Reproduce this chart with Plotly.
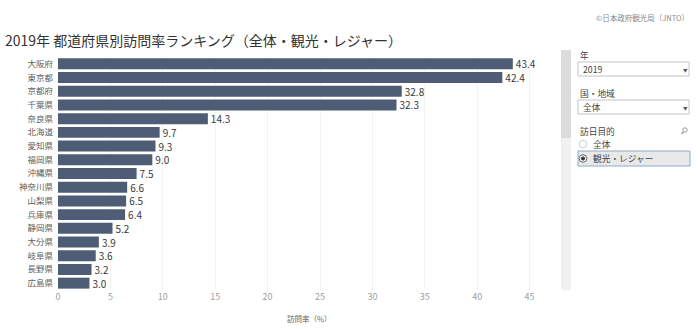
import plotly.graph_objects as go

# 都道府県別訪問率（2019年・観光・レジャー）
prefectures = ["大阪府", "東京都", "京都府", "千葉県", "奈良県", "北海道", "愛知県", "福岡県",
               "沖縄県", "神奈川県", "山梨県", "兵庫県", "静岡県", "大分県", "岐阜県", "長野県", "広島県"]
visit_rate = [43.4, 42.4, 32.8, 32.3, 14.3, 9.7, 9.3, 9.0, 7.5, 6.6, 6.5, 6.4, 5.2, 3.9, 3.6, 3.2, 3.0]
x_ticks = [0, 5, 10, 15, 20, 25, 30, 35, 40, 45]

FONT = "Noto Sans CJK JP"
W, H = 700, 329
ML, MR, MT, MB = 58, 140, 57, 39
PW, PH = W - ML - MR, H - MT - MB


def px_x(x):
    return (x - ML) / PW


def px_y(y):
    return (H - MB - y) / PH


fig = go.Figure(go.Bar(
    x=visit_rate, y=prefectures, orientation="h",
    marker=dict(color="#4e5d75", line=dict(width=0)),
    width=0.8,
    text=[f"{v:.1f}" for v in visit_rate], textposition="outside",
    constraintext="none",
    textfont=dict(family=FONT, size=10, color="#3a3a3a"),
    cliponaxis=False, hoverinfo="skip",
))

shapes = []
annotations = []


def rect(x0, y0, x1, y1, fill, line=None, lw=1):
    shapes.append(dict(type="rect", xref="paper", yref="paper",
                       x0=px_x(x0), x1=px_x(x1), y0=px_y(y0), y1=px_y(y1),
                       fillcolor=fill, line=dict(color=line or fill, width=lw if line else 0),
                       layer="above"))


def circle(cx, cy, r, fill, line, lw=1):
    shapes.append(dict(type="circle", xref="paper", yref="paper",
                       x0=px_x(cx - r), x1=px_x(cx + r), y0=px_y(cy + r), y1=px_y(cy - r),
                       fillcolor=fill, line=dict(color=line, width=lw), layer="above"))


def text(x, y, s, size=9, color="#444444", anchor="left"):
    annotations.append(dict(xref="paper", yref="paper", x=px_x(x), y=px_y(y), text=s,
                            showarrow=False, xanchor=anchor, yanchor="middle",
                            font=dict(family=FONT, size=size, color=color)))


# タイトルとクレジット
text(3, 40, "2019年 都道府県別訪問率ランキング（全体・観光・レジャー）", size=14, color="#333333")
text(691, 17, "©日本政府観光局（JNTO）", size=7.5, color="#8a8a8a", anchor="right")
text(309, 318, "訪問率（%）", size=7.5, color="#666666", anchor="center")

# スクロールバー
rect(561, 138, 571, 290, "#f1f1f1")
rect(561, 50, 571, 138, "#dcdcdc")

# フィルター：年
text(578, 55, "年", size=8.7)
rect(578, 62, 689, 76, "#ffffff", "#c4c4c4")
text(581, 69, "2019", size=8.7)
text(685, 69.5, "▼", size=4.5, color="#555555", anchor="center")

# フィルター：国・地域
text(578, 93, "国・地域", size=8.7)
rect(578, 100, 689, 114, "#ffffff", "#c4c4c4")
text(581, 107, "全体", size=8.7)
text(685, 107.5, "▼", size=4.5, color="#555555", anchor="center")

# フィルター：訪日目的
text(578, 131, "訪日目的", size=8.7)
circle(685, 130, 2.2, "rgba(0,0,0,0)", "#999999", 1)
shapes.append(dict(type="line", xref="paper", yref="paper",
                   x0=px_x(683.5), y0=px_y(131.8), x1=px_x(681.5), y1=px_y(134),
                   line=dict(color="#999999", width=1.2), layer="above"))
circle(583, 144, 3.8, "#ffffff", "#cccccc")
text(591, 144, "全体", size=8.7)
rect(578, 151, 690, 166, "#e9e9e9", "#90aacb")
circle(583, 158.5, 3.8, "#ffffff", "#666666")
circle(583, 158.5, 1.6, "#333333", "#333333")
text(591, 158.5, "観光・レジャー", size=8.7)

fig.update_layout(
    width=W, height=H,
    margin=dict(l=ML, r=MR, t=MT, b=MB),
    paper_bgcolor="#ffffff", plot_bgcolor="#ffffff",
    showlegend=False, bargap=0.2,
    shapes=shapes, annotations=annotations,
    xaxis=dict(range=[0, 47.9], tickvals=x_ticks, showgrid=True, gridcolor="#f2f2f2",
               gridwidth=1, zeroline=False, showline=False, ticks="",
               tickfont=dict(family=FONT, size=9, color="#a0a0a0"), fixedrange=True),
    yaxis=dict(autorange="reversed", showgrid=False, zeroline=False, showline=False,
               ticks="", ticklabelstandoff=4,
               tickfont=dict(family=FONT, size=8.5, color="#606060"), fixedrange=True),
)

fig.write_html("out.html", config={"displayModeBar": False})
